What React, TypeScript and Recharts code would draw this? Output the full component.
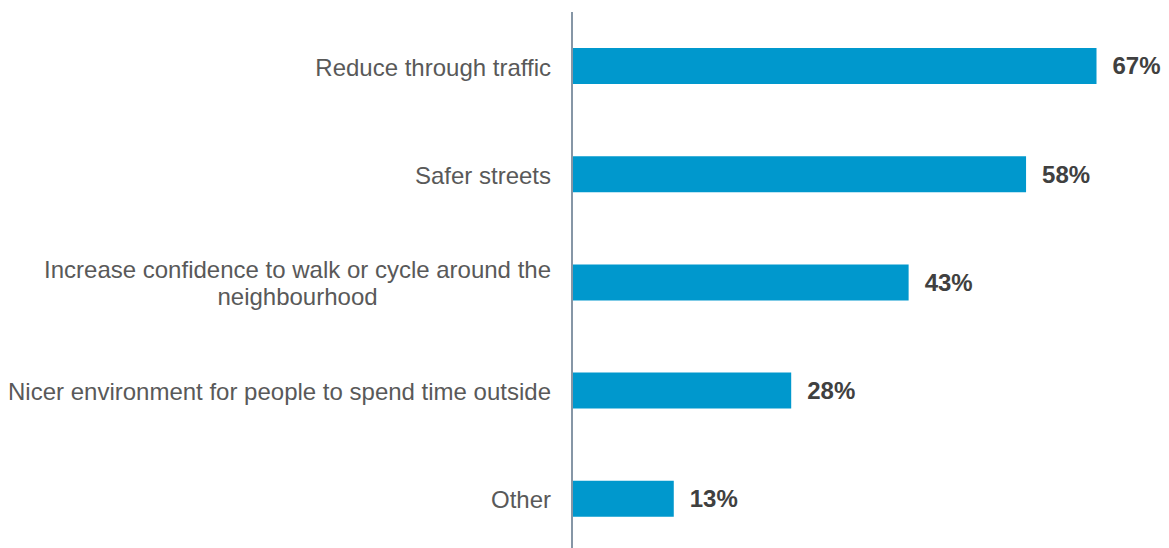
import { BarChart, Bar, XAxis, YAxis, LabelList } from 'recharts';

const categories = [
  'Reduce through traffic',
  'Safer streets',
  'Increase confidence to walk or cycle around the neighbourhood',
  'Nicer environment for people to spend time outside',
  'Other',
];
const values = [67, 58, 43, 28, 13];

const data = categories.map((name, i) => ({ name, value: values[i] }));

const FONT = '"Liberation Sans", Arial, sans-serif';
const FONT_SIZE = 24;

let ctx: CanvasRenderingContext2D | null = null;
function measure(text: string, font: string) {
  if (!ctx) ctx = document.createElement('canvas').getContext('2d');
  ctx!.font = font;
  return ctx!.measureText(text).width;
}

// break long category names into lines that fit the label column
function wrap(text: string, maxWidth: number) {
  const font = `${FONT_SIZE}px ${FONT}`;
  const words = text.split(' ');
  const lines: string[] = [];
  let cur = '';
  words.forEach((w) => {
    const next = cur ? cur + ' ' + w : w;
    if (cur && measure(next, font) > maxWidth) {
      lines.push(cur);
      cur = w;
    } else {
      cur = next;
    }
  });
  if (cur) lines.push(cur);
  return lines.map((l) => ({ text: l, width: measure(l, font) }));
}

function CategoryTick(props: any) {
  const { x, y, payload } = props;
  const lines = wrap(payload.value, 560);
  const lineH = 27;
  const maxW = Math.max(...lines.map((l) => l.width));
  return (
    <g transform={`translate(${x} ${y + 1})`}>
      {lines.map((l, i) => (
        <text
          key={i}
          x={lines.length > 1 ? -maxW / 2 : 0}
          y={(i - (lines.length - 1) / 2) * lineH}
          dy="0.35em"
          textAnchor={lines.length > 1 ? 'middle' : 'end'}
          fontFamily={FONT}
          fontSize={FONT_SIZE}
          fill="#595959"
        >
          {l.text}
        </text>
      ))}
    </g>
  );
}

function ValueLabel(props: any) {
  const { x, y, width, height, value } = props;
  return (
    <text
      x={x + width + 16}
      y={y + height / 2}
      dy="0.35em"
      fontFamily={FONT}
      fontSize={FONT_SIZE}
      fontWeight="bold"
      fill="#404040"
    >
      {value}%
    </text>
  );
}

export default function App() {
  return (
    <div style={{ position: 'absolute', left: 0, top: 0, width: 1169, height: 548, overflow: 'hidden', background: '#fff' }}>
      <BarChart
        layout="vertical"
        width={1169}
        height={553}
        data={data}
        margin={{ top: 12, right: 49, bottom: 0, left: 0 }}
      >
        <XAxis type="number" domain={[0, 70]} hide />
        <YAxis
          type="category"
          dataKey="name"
          width={572}
          axisLine={{ stroke: '#8696A6', strokeWidth: 2 }}
          tickLine={false}
          tickMargin={15}
          tick={<CategoryTick />}
          interval={0}
        />
        <Bar dataKey="value" fill="#0098CD" barSize={36} isAnimationActive={false}>
          <LabelList dataKey="value" content={<ValueLabel />} />
        </Bar>
      </BarChart>
    </div>
  );
}
